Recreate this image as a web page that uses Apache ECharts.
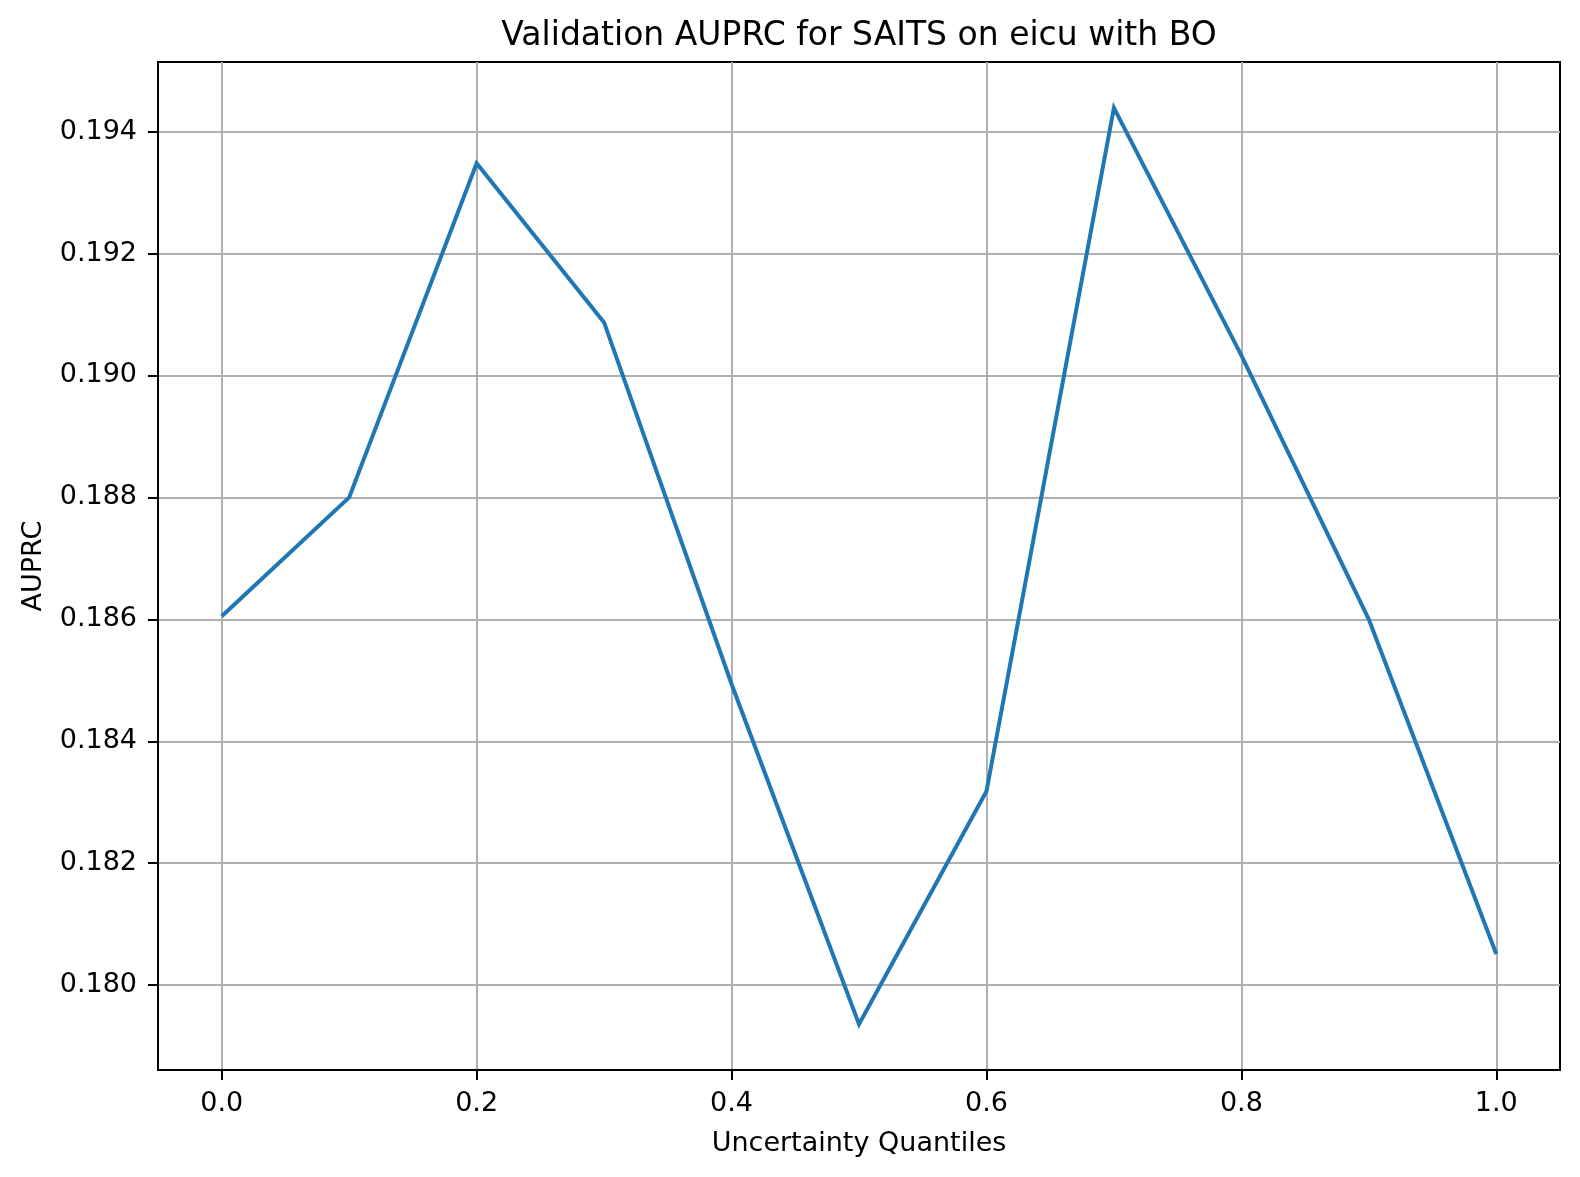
<!DOCTYPE html>
<html>
<head>
<meta charset="utf-8">
<script src="https://cdn.jsdelivr.net/npm/echarts@6/dist/echarts.min.js"></script>
<style>
html,body{margin:0;padding:0;background:#ffffff;}
#chart{width:1580px;height:1177px;}
</style>
</head>
<body>
<div id="chart"></div>
<script>
const quantiles = [0.0, 0.1, 0.2, 0.3, 0.4, 0.5, 0.6, 0.7, 0.8, 0.9, 1.0];
const auprc = [0.18605, 0.18800, 0.19348, 0.19087, 0.18494, 0.17936, 0.18318, 0.19439, 0.19033, 0.18600, 0.18051];
const xTicks = [0.0, 0.2, 0.4, 0.6, 0.8, 1.0];
const yTicks = [0.180, 0.182, 0.184, 0.186, 0.188, 0.190, 0.192, 0.194];
const titleText = 'Validation AUPRC for SAITS on eicu with BO';
const xLabel = 'Uncertainty Quantiles';
const yLabel = 'AUPRC';

function padExtent(arr) {
  const mn = Math.min(...arr), mx = Math.max(...arr), m = (mx - mn) * 0.05;
  return [mn - m, mx + m];
}
const [xMin, xMax] = padExtent(quantiles);
const [yMin, yMax] = padExtent(auprc);

const FONT = 'DejaVu Sans';
const chart = echarts.init(document.getElementById('chart'), null, {renderer: 'canvas'});
chart.setOption({
  animation: false,
  backgroundColor: '#ffffff',
  title: {
    text: titleText,
    left: 859,
    textAlign: 'center',
    top: 20,
    padding: 0,
    textStyle: {fontFamily: FONT, fontSize: 33, fontWeight: 'normal', color: '#000'}
  },
  grid: {
    left: 158, right: 20, top: 62, bottom: 107,
    show: true, borderColor: '#000', borderWidth: 2, backgroundColor: 'transparent'
  },
  xAxis: {
    type: 'value',
    min: xMin, max: xMax,
    name: xLabel,
    nameLocation: 'middle',
    nameGap: 60,
    nameTextStyle: {fontFamily: FONT, fontSize: 27, color: '#000'},
    axisLine: {show: true, onZero: false, lineStyle: {color: '#000', width: 2}},
    axisTick: {show: true, customValues: xTicks, length: 10, lineStyle: {color: '#000', width: 2}},
    axisLabel: {customValues: xTicks, formatter: v => Number(v).toFixed(1), margin: 20,
                fontFamily: FONT, fontSize: 27, color: '#000'},
    splitLine: {show: true, lineStyle: {color: '#b0b0b0', width: 2}}
  },
  yAxis: {
    type: 'value',
    min: yMin, max: yMax,
    name: yLabel,
    nameLocation: 'middle',
    nameGap: 111,
    nameRotate: 90,
    nameTextStyle: {fontFamily: FONT, fontSize: 27, color: '#000'},
    axisLine: {show: true, onZero: false, lineStyle: {color: '#000', width: 2}},
    axisTick: {show: true, customValues: yTicks, length: 10, lineStyle: {color: '#000', width: 2}},
    axisLabel: {customValues: yTicks, formatter: v => Number(v).toFixed(3), margin: 21,
                fontFamily: FONT, fontSize: 27, color: '#000'},
    splitLine: {show: true, lineStyle: {color: '#b0b0b0', width: 2}}
  },
  series: [{
    type: 'line',
    data: quantiles.map((x, i) => [x, auprc[i]]),
    showSymbol: false,
    symbol: 'none',
    lineStyle: {color: '#1f77b4', width: 4, cap: 'butt', join: 'miter'},
    z: 3
  }]
});
</script>
</body>
</html>
